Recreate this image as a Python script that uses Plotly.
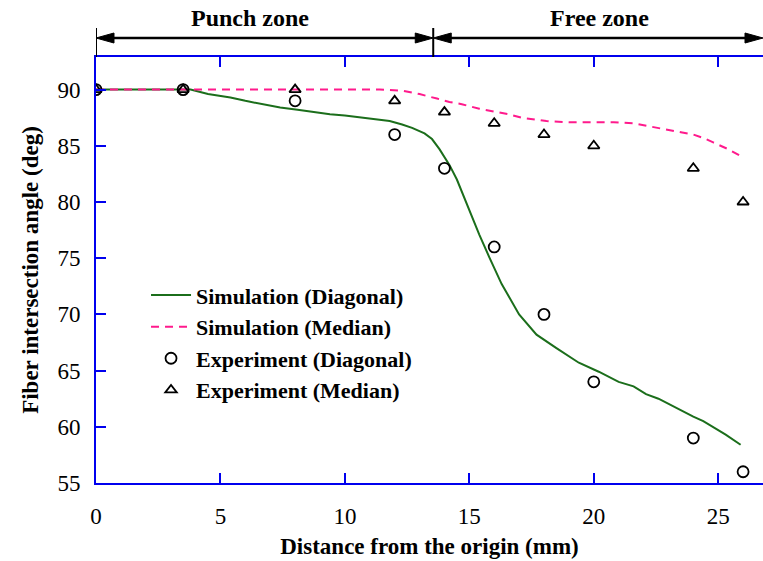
import plotly.graph_objects as go

# ---------------- data ----------------
sim_diag_x = [0, 1, 2, 3, 3.5, 3.8, 4.5, 5.4, 6.0, 6.7, 7.4, 8.1, 8.8, 9.4, 10.0, 10.7, 11.4, 11.8,
              12.3, 12.7, 13.2, 13.5, 13.8, 14.2, 14.5, 14.9, 15.4, 15.8, 16.3, 17.0, 17.7, 18.5,
              19.4, 20.2, 21.0, 21.6, 22.1, 22.6, 23.2, 23.6, 24.0, 24.4, 24.7, 25.3, 25.9]
sim_diag_y = [90, 90, 90, 90, 90, 90.0, 89.6, 89.3, 89.0, 88.7, 88.4, 88.2, 88.0, 87.8, 87.7, 87.5, 87.3, 87.2,
              86.9, 86.6, 86.1, 85.6, 84.7, 83.3, 82.0, 79.8, 77.1, 75.1, 72.7, 70.0, 68.2, 67.0,
              65.7, 64.9, 64.0, 63.6, 62.9, 62.5, 61.8, 61.4, 60.9, 60.5, 60.1, 59.3, 58.4]

sim_med_x = [0, 2, 4, 6, 8, 10, 11.4, 12.3, 13.0, 13.7, 14.2, 14.7, 15.4, 16.1, 16.6, 17.1, 18.1,
             19.0, 20.0, 20.8, 21.6, 22.3, 22.9, 23.5, 24.0, 24.4, 24.8, 25.4, 25.9]
sim_med_y = [90, 90, 90, 90, 90, 90, 90, 89.9, 89.6, 89.2, 88.9, 88.7, 88.3, 88.0, 87.8, 87.5, 87.2,
             87.1, 87.1, 87.1, 87.0, 86.7, 86.4, 86.2, 86.0, 85.7, 85.3, 84.7, 84.1]

exp_x = [0, 3.5, 8, 12, 14, 16, 18, 20, 24, 26]
exp_diag_y = [90, 90, 89, 86, 83, 76, 70, 64, 59, 56]
exp_med_y = [90, 90, 90, 89, 88, 87, 86, 85, 83, 80]

x_ticks = [0, 5, 10, 15, 20, 25]
y_ticks = [55, 60, 65, 70, 75, 80, 85, 90]

zone_bounds = [0, 13.55, 26.8]
zone_labels = ["Punch zone", "Free zone"]
zone_label_x = [6.2, 20.25]

X_RANGE = [0, 26.8]
Y_RANGE = [55, 92.9]

FONT = "Liberation Serif"
AXIS_BLUE = "#0000ee"

fig = go.Figure()

fig.add_trace(go.Scatter(x=sim_diag_x, y=sim_diag_y, mode="lines",
                         name="<b>Simulation (Diagonal)</b>",
                         line=dict(color="#1b6e1b", width=2)))
fig.add_trace(go.Scatter(x=sim_med_x, y=sim_med_y, mode="lines",
                         name="<b>Simulation (Median)</b>",
                         line=dict(color="#ff1a8c", width=2, dash="8px,6px")))
fig.add_trace(go.Scatter(x=exp_x, y=exp_diag_y, mode="markers",
                         name="<b>Experiment (Diagonal)</b>",
                         marker=dict(symbol="circle-open", size=11, color="black",
                                     line=dict(width=1.8, color="black"))))
fig.add_trace(go.Scatter(x=exp_x, y=exp_med_y, mode="markers",
                         name="<b>Experiment (Median)</b>",
                         marker=dict(symbol="triangle-up-open", size=10, color="black",
                                     line=dict(width=1.8, color="black"))))

# ---- zone annotations above the plot ----
plot_h_px = 561 - 57 - 78
plot_w_px = 763 - 95.5
px_per_x = plot_w_px / (X_RANGE[1] - X_RANGE[0])
arrow_y = 1 + 19 / plot_h_px
div_top = 1 + 29 / plot_h_px
label_y = 1 + 39 / plot_h_px
head_len = 18 / px_per_x
head_half = 5 / plot_h_px

shapes = []
for xb in zone_bounds[:2]:
    shapes.append(dict(type="line", xref="x", yref="paper", x0=xb, x1=xb, y0=1, y1=div_top,
                       line=dict(color="black", width=2)))
for i in range(2):
    a, b = zone_bounds[i], zone_bounds[i + 1]
    shapes.append(dict(type="line", xref="x", yref="paper", x0=a + head_len * 0.5, x1=b - head_len * 0.5,
                       y0=arrow_y, y1=arrow_y, line=dict(color="black", width=2.5)))
    shapes.append(dict(type="path", xref="x", yref="paper",
                       path=f"M{a},{arrow_y} L{a + head_len},{arrow_y + head_half} "
                            f"L{a + head_len},{arrow_y - head_half} Z",
                       fillcolor="black", line=dict(color="black", width=1)))
    shapes.append(dict(type="path", xref="x", yref="paper",
                       path=f"M{b},{arrow_y} L{b - head_len},{arrow_y + head_half} "
                            f"L{b - head_len},{arrow_y - head_half} Z",
                       fillcolor="black", line=dict(color="black", width=1)))

annotations = []
for lx, lt in zip(zone_label_x, zone_labels):
    annotations.append(dict(x=lx, y=label_y, xref="x", yref="paper", text=f"<b>{lt}</b>",
                            showarrow=False, font=dict(family=FONT, size=24, color="black"),
                            xanchor="center", yanchor="middle"))

fig.update_layout(
    width=763, height=561,
    margin=dict(l=95.5, r=0, t=57, b=78, autoexpand=False),
    paper_bgcolor="white", plot_bgcolor="white",
    font=dict(family=FONT, size=22, color="black"),
    shapes=shapes, annotations=annotations,
    showlegend=True,
    legend=dict(x=0.075, y=0.49, xanchor="left", yanchor="top",
                bgcolor="rgba(0,0,0,0)", font=dict(family=FONT, size=22, color="black"),
                tracegroupgap=0, itemwidth=40),
    xaxis=dict(range=X_RANGE, tickvals=x_ticks, ticktext=[str(v) for v in x_ticks],
               ticks="inside", ticklen=10, tickwidth=2, tickcolor=AXIS_BLUE,
               showline=True, linecolor=AXIS_BLUE, linewidth=2, mirror="ticks",
               showgrid=False, zeroline=False, ticklabelstandoff=11,
               tickfont=dict(family=FONT, size=23, color="black"),
               title=dict(text="<b>Distance from the origin (mm)</b>", standoff=10,
                          font=dict(family=FONT, size=23, color="black"))),
    yaxis=dict(range=Y_RANGE, tickvals=y_ticks, ticktext=[str(v) for v in y_ticks],
               ticks="inside", ticklen=10, tickwidth=2, tickcolor=AXIS_BLUE,
               showline=True, linecolor=AXIS_BLUE, linewidth=2, mirror=False,
               showgrid=False, zeroline=False, ticklabelstandoff=9,
               tickfont=dict(family=FONT, size=23, color="black"),
               title=dict(text="<b>Fiber intersection angle (deg)</b>", standoff=12,
                          font=dict(family=FONT, size=23, color="black"))),
    yaxis2=dict(range=Y_RANGE, overlaying="y", side="right", tickvals=y_ticks,
                ticks="inside", ticklen=8, tickwidth=2, tickcolor=AXIS_BLUE,
                showticklabels=False, showline=False, showgrid=False, zeroline=False),
)

fig.write_html("out.html", config={"displayModeBar": False},
               post_script="document.body.style.margin='0';document.body.style.overflow='hidden';")
